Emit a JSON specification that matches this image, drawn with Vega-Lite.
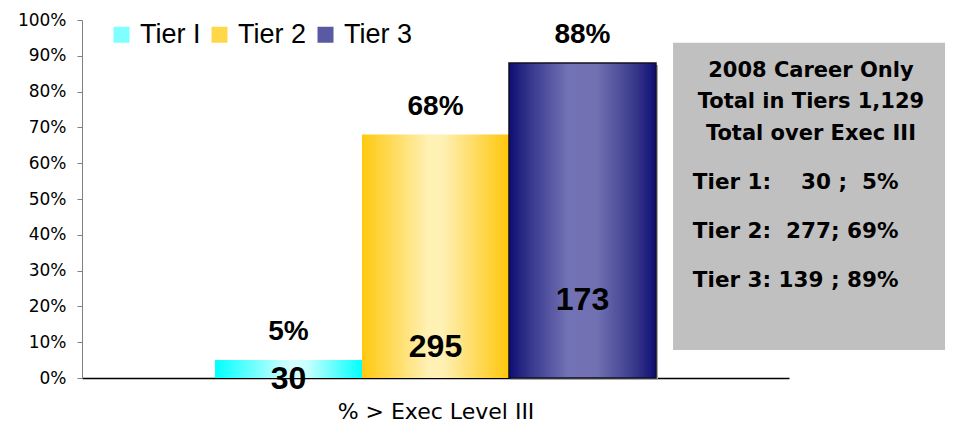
{
  "$schema": "https://vega.github.io/schema/vega-lite/v6.json",
  "width": 707,
  "height": 358,
  "autosize": {"type": "none"},
  "padding": {"left": 82, "top": 20, "right": 164, "bottom": 46},
  "background": "white",
  "config": {
    "view": {"stroke": null},
    "font": "Liberation Sans",
    "axisY": {
      "grid": false, "domainColor": "#808080", "tickColor": "#808080", "tickSize": 5,
      "labelFont": "DejaVu Sans", "labelFontSize": 17, "labelColor": "black",
      "labelPadding": 11, "labelOverlap": false
    }
  },
  "datasets": {
    "tiers": [
      {"tier": "Tier I", "pct": 0.05, "count": 30},
      {"tier": "Tier 2", "pct": 0.68, "count": 295},
      {"tier": "Tier 3", "pct": 0.88, "count": 173}
    ]
  },
  "layer": [
    {
      "data": {"name": "tiers"},
      "encoding": {
        "x": {
          "field": "tier", "type": "nominal", "title": "% > Exec Level III",
          "scale": {"domain": ["Tier I", "Tier 2", "Tier 3"], "paddingInner": 0, "paddingOuter": 0.905},
          "axis": {
            "domainColor": "black", "domainWidth": 1.5,
            "ticks": false, "labels": false,
            "titleFont": "DejaVu Sans", "titleFontSize": 22, "titleFontWeight": "normal", "titleColor": "black",
            "titlePadding": 23
          }
        },
        "y": {
          "field": "pct", "type": "quantitative", "title": null,
          "scale": {"domain": [0, 1], "nice": false},
          "axis": {"values": [0, 0.1, 0.2, 0.3, 0.4, 0.5, 0.6, 0.7, 0.8, 0.9, 1], "format": ".0%"}
        }
      },
      "layer": [
        {
          "mark": {"type": "square", "opacity": 0},
          "encoding": {
            "color": {
              "field": "tier", "type": "nominal",
              "scale": {"domain": ["Tier I", "Tier 2", "Tier 3"], "range": ["#7fffff", "#ffd84a", "#5a5aa2"]},
              "legend": {
                "title": null, "orient": "none", "legendX": 26, "legendY": 1,
                "direction": "horizontal", "symbolType": "square", "symbolSize": 256,
                "labelFont": "Liberation Sans", "labelFontSize": 27, "labelColor": "black",
                "labelOffset": 5, "columnPadding": 5, "padding": 0,
                "symbolOpacity": 1, "symbolStrokeWidth": 0
              }
            }
          }
        },
        {
          "transform": [{"filter": "datum.tier === 'Tier 3'"}],
          "mark": {"type": "bar", "color": "#a8a8a8", "xOffset": 2, "yOffset": 2}
        },
        {
          "transform": [{"filter": "datum.tier === 'Tier I'"}],
          "mark": {
            "type": "bar",
            "color": {"gradient": "linear", "x1": 0, "x2": 1, "y1": 0, "y2": 0, "stops": [{"offset": 0, "color": "#00ffff"}, {"offset": 0.5, "color": "#d4ffff"}, {"offset": 0.62, "color": "#ccffff"}, {"offset": 1, "color": "#00ffff"}]}
          }
        },
        {
          "transform": [{"filter": "datum.tier === 'Tier 2'"}],
          "mark": {
            "type": "bar",
            "color": {"gradient": "linear", "x1": 0, "x2": 1, "y1": 0, "y2": 0, "stops": [{"offset": 0, "color": "#ffc90e"}, {"offset": 0.45, "color": "#fff0b4"}, {"offset": 0.55, "color": "#fff0b4"}, {"offset": 1, "color": "#ffc60a"}]}
          }
        },
        {
          "transform": [{"filter": "datum.tier === 'Tier 3'"}],
          "mark": {
            "type": "bar", "stroke": "#111122", "strokeWidth": 1.5,
            "color": {"gradient": "linear", "x1": 0, "x2": 1, "y1": 0, "y2": 0, "stops": [{"offset": 0, "color": "#0e0e74"}, {"offset": 0.15, "color": "#38388e"}, {"offset": 0.4, "color": "#7272b6"}, {"offset": 0.6, "color": "#7070b2"}, {"offset": 0.85, "color": "#3a3a8c"}, {"offset": 1, "color": "#0e0e74"}]}
          }
        },
        {
          "mark": {"type": "text", "font": "Liberation Sans", "fontWeight": "bold", "fontSize": 28, "color": "black", "baseline": "alphabetic", "dy": -20},
          "encoding": {"text": {"field": "pct", "type": "quantitative", "format": ".0%"}}
        },
        {
          "transform": [{"filter": "datum.tier === 'Tier I'"}],
          "mark": {"type": "text", "font": "Liberation Sans", "fontWeight": "bold", "fontSize": 32, "color": "black", "baseline": "alphabetic", "dy": 11},
          "encoding": {"y": {"datum": 0, "type": "quantitative"}, "text": {"field": "count", "type": "quantitative"}}
        },
        {
          "transform": [{"filter": "datum.tier === 'Tier 2'"}],
          "mark": {"type": "text", "font": "Liberation Sans", "fontWeight": "bold", "fontSize": 32, "color": "black", "baseline": "alphabetic", "dy": -21},
          "encoding": {"y": {"datum": 0, "type": "quantitative"}, "text": {"field": "count", "type": "quantitative"}}
        },
        {
          "transform": [{"filter": "datum.tier === 'Tier 3'"}],
          "mark": {"type": "text", "font": "Liberation Sans", "fontWeight": "bold", "fontSize": 32, "color": "black", "baseline": "alphabetic", "dy": -68},
          "encoding": {"y": {"datum": 0, "type": "quantitative"}, "text": {"field": "count", "type": "quantitative"}}
        }
      ]
    },
    {
      "data": {"values": [{"note": "2008 Career Only"}]},
      "layer": [
        {
          "mark": {"type": "rect", "color": "#c0c0c0"},
          "encoding": {
            "x": {"datum": 0.836, "type": "quantitative", "title": null, "scale": {"domain": [0, 1], "nice": false, "zero": false}, "axis": null},
            "x2": {"datum": 1.2207},
            "y": {"datum": 0.9366, "type": "quantitative", "title": null, "axis": {"values": [0, 0.1, 0.2, 0.3, 0.4, 0.5, 0.6, 0.7, 0.8, 0.9, 1], "format": ".0%"}},
            "y2": {"datum": 0.0782}
          }
        },
        {
          "mark": {
            "type": "text", "font": "DejaVu Sans", "fontWeight": "bold", "fontSize": 21, "color": "black",
            "align": "center", "baseline": "alphabetic", "lineHeight": 31.5,
            "text": ["2008 Career Only", "Total in Tiers 1,129", "Total over Exec III"]
          },
          "encoding": {
            "x": {"datum": 1.031, "type": "quantitative", "title": null, "axis": null},
            "y": {"datum": 0.8408, "type": "quantitative", "title": null, "axis": {"values": [0, 0.1, 0.2, 0.3, 0.4, 0.5, 0.6, 0.7, 0.8, 0.9, 1], "format": ".0%"}}
          }
        },
        {
          "mark": {
            "type": "text", "font": "DejaVu Sans", "fontWeight": "bold", "fontSize": 21.5, "color": "black",
            "align": "left", "baseline": "alphabetic", "lineHeight": 49,
            "text": ["Tier 1:\u00a0\u00a0\u00a0\u00a030 ;\u00a0\u00a05%", "Tier 2:\u00a0\u00a0277; 69%", "Tier 3: 139 ; 89%"]
          },
          "encoding": {
            "x": {"datum": 0.864, "type": "quantitative", "title": null, "axis": null},
            "y": {"datum": 0.5293, "type": "quantitative", "title": null, "axis": {"values": [0, 0.1, 0.2, 0.3, 0.4, 0.5, 0.6, 0.7, 0.8, 0.9, 1], "format": ".0%"}}
          }
        }
      ]
    }
  ],
  "resolve": {"scale": {"x": "independent"}}
}
